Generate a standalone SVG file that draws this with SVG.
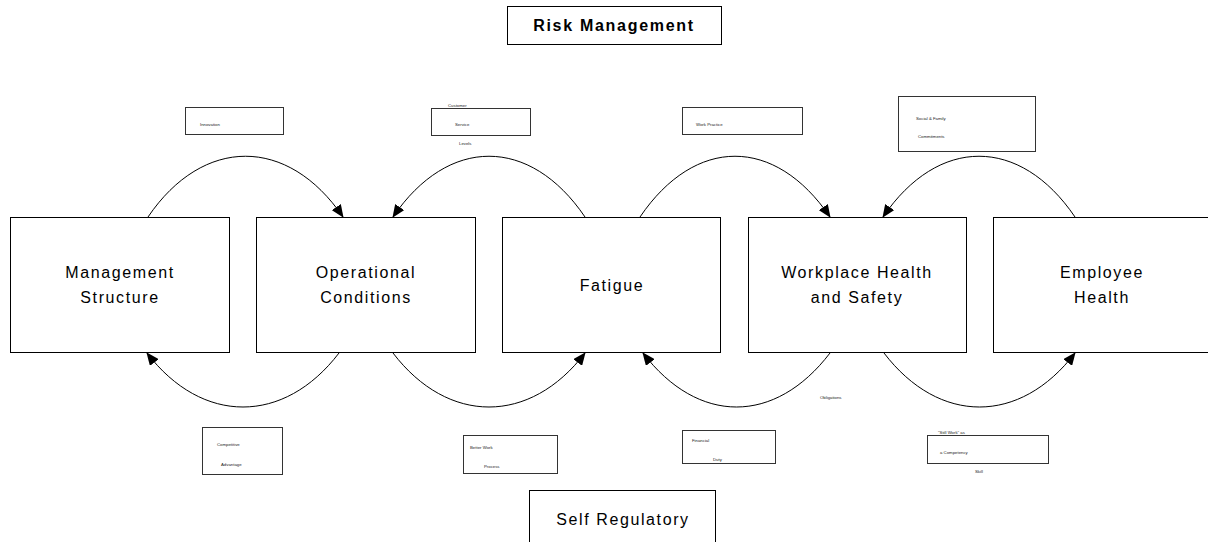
<svg xmlns="http://www.w3.org/2000/svg" width="1208" height="542" viewBox="0 0 1208 542">
  <style>
    .box { fill: #ffffff; stroke: #000000; stroke-width: 1; }
    .sbox { fill: #ffffff; stroke: #333333; stroke-width: 1; }
    .big { font-family: "Liberation Sans", Arial, sans-serif; font-size: 16px; letter-spacing: 1.6px; fill: #000; text-anchor: middle; }
    .title { font-family: "Liberation Sans", Arial, sans-serif; font-size: 16px; font-weight: bold; letter-spacing: 1.7px; fill: #000; text-anchor: middle; }
    .tiny { font-family: "Liberation Sans", Arial, sans-serif; font-size: 4.3px; fill: #222; }
    .arc { fill: none; stroke: #000000; stroke-width: 1; }
  </style>
  <defs>
    <marker id="arrow" markerWidth="13" markerHeight="11" refX="12" refY="5.5" orient="auto" markerUnits="userSpaceOnUse">
      <path d="M0,0 L13,5.5 L0,11 Z" fill="#000"/>
    </marker>
  </defs>

  <rect width="1208" height="542" fill="#ffffff"/>

  <g id="risk-management">
    <rect class="box" x="507.5" y="6.5" width="214" height="38"/>
    <text class="title" x="614" y="31">Risk Management</text>
  </g>

  <g id="management-structure">
    <rect class="box" x="10.5" y="217.5" width="219" height="135"/>
    <text class="big" x="120" y="278">Management</text>
    <text class="big" x="120" y="303">Structure</text>
  </g>
  <g id="operational-conditions">
    <rect class="box" x="256.5" y="217.5" width="219" height="135"/>
    <text class="big" x="366" y="278">Operational</text>
    <text class="big" x="366" y="303">Conditions</text>
  </g>
  <g id="fatigue">
    <rect class="box" x="502.5" y="217.5" width="218" height="135"/>
    <text class="big" x="612" y="291">Fatigue</text>
  </g>
  <g id="workplace-health-safety">
    <rect class="box" x="748.5" y="217.5" width="218" height="135"/>
    <text class="big" x="857" y="278">Workplace Health</text>
    <text class="big" x="857" y="303">and Safety</text>
  </g>
  <g id="employee-health">
    <rect class="box" x="993.5" y="217.5" width="220" height="135"/>
    <text class="big" x="1102" y="278">Employee</text>
    <text class="big" x="1102" y="303">Health</text>
  </g>

  <g id="self-regulatory">
    <rect class="box" x="529.5" y="490.5" width="186" height="60"/>
    <text class="big" x="623" y="525">Self Regulatory</text>
  </g>

  <g id="innovation">
    <rect class="sbox" x="185.5" y="107.5" width="98" height="27"/>
    <text class="tiny" x="200" y="126">Innovation</text>
  </g>
  <g id="customer-service-levels">
    <rect class="sbox" x="431.5" y="108.5" width="99" height="27"/>
    <text class="tiny" x="448" y="107">Customer</text>
    <text class="tiny" x="455" y="126">Service</text>
    <text class="tiny" x="459" y="145">Levels</text>
  </g>
  <g id="work-practice">
    <rect class="sbox" x="682.5" y="107.5" width="120" height="27"/>
    <text class="tiny" x="696" y="126">Work Practice</text>
  </g>
  <g id="social-family">
    <rect class="sbox" x="898.5" y="96.5" width="137" height="55"/>
    <text class="tiny" x="916" y="120">Social &amp; Family</text>
    <text class="tiny" x="918" y="138">Commitments</text>
  </g>
  <g id="competitive-advantage">
    <rect class="sbox" x="202.5" y="427.5" width="80" height="47"/>
    <text class="tiny" x="217" y="446">Competitive</text>
    <text class="tiny" x="221" y="466">Advantage</text>
  </g>
  <g id="better-work-process">
    <rect class="sbox" x="463.5" y="435.5" width="94" height="38"/>
    <text class="tiny" x="470" y="449">Better Work</text>
    <text class="tiny" x="484" y="468">Process</text>
  </g>
  <g id="financial-duty">
    <rect class="sbox" x="682.5" y="430.5" width="93" height="33"/>
    <text class="tiny" x="692" y="442">Financial</text>
    <text class="tiny" x="713" y="461">Duty</text>
  </g>
  <g id="still-work">
    <rect class="sbox" x="927.5" y="435.5" width="121" height="28"/>
    <text class="tiny" x="938" y="434">"Still Work" as</text>
    <text class="tiny" x="940" y="454">a Competency</text>
    <text class="tiny" x="975" y="473">Skill</text>
  </g>
  <g id="obligations">
    <text class="tiny" x="820" y="399">Obligations</text>
  </g>

  <!-- curved influence arrows: upper arcs run over the boxes, lower arcs under them -->
  <g id="connectors">
    <path class="arc" d="M148,217 C203,136 288,136 343,217" marker-end="url(#arrow)"/>
    <path class="arc" d="M585,217 C530,136 448,136 393,217" marker-end="url(#arrow)"/>
    <path class="arc" d="M640,217 C695,136 775,136 830,217" marker-end="url(#arrow)"/>
    <path class="arc" d="M1075,217 C1020,136 938,136 883,217" marker-end="url(#arrow)"/>
    <path class="arc" d="M339,353 C284,425 202,425 147,353" marker-end="url(#arrow)"/>
    <path class="arc" d="M393,353 C448,425 530,425 585,353" marker-end="url(#arrow)"/>
    <path class="arc" d="M830,353 C775,425 698,425 643,353" marker-end="url(#arrow)"/>
    <path class="arc" d="M884,353 C939,425 1020,425 1075,353" marker-end="url(#arrow)"/>
  </g>
</svg>
